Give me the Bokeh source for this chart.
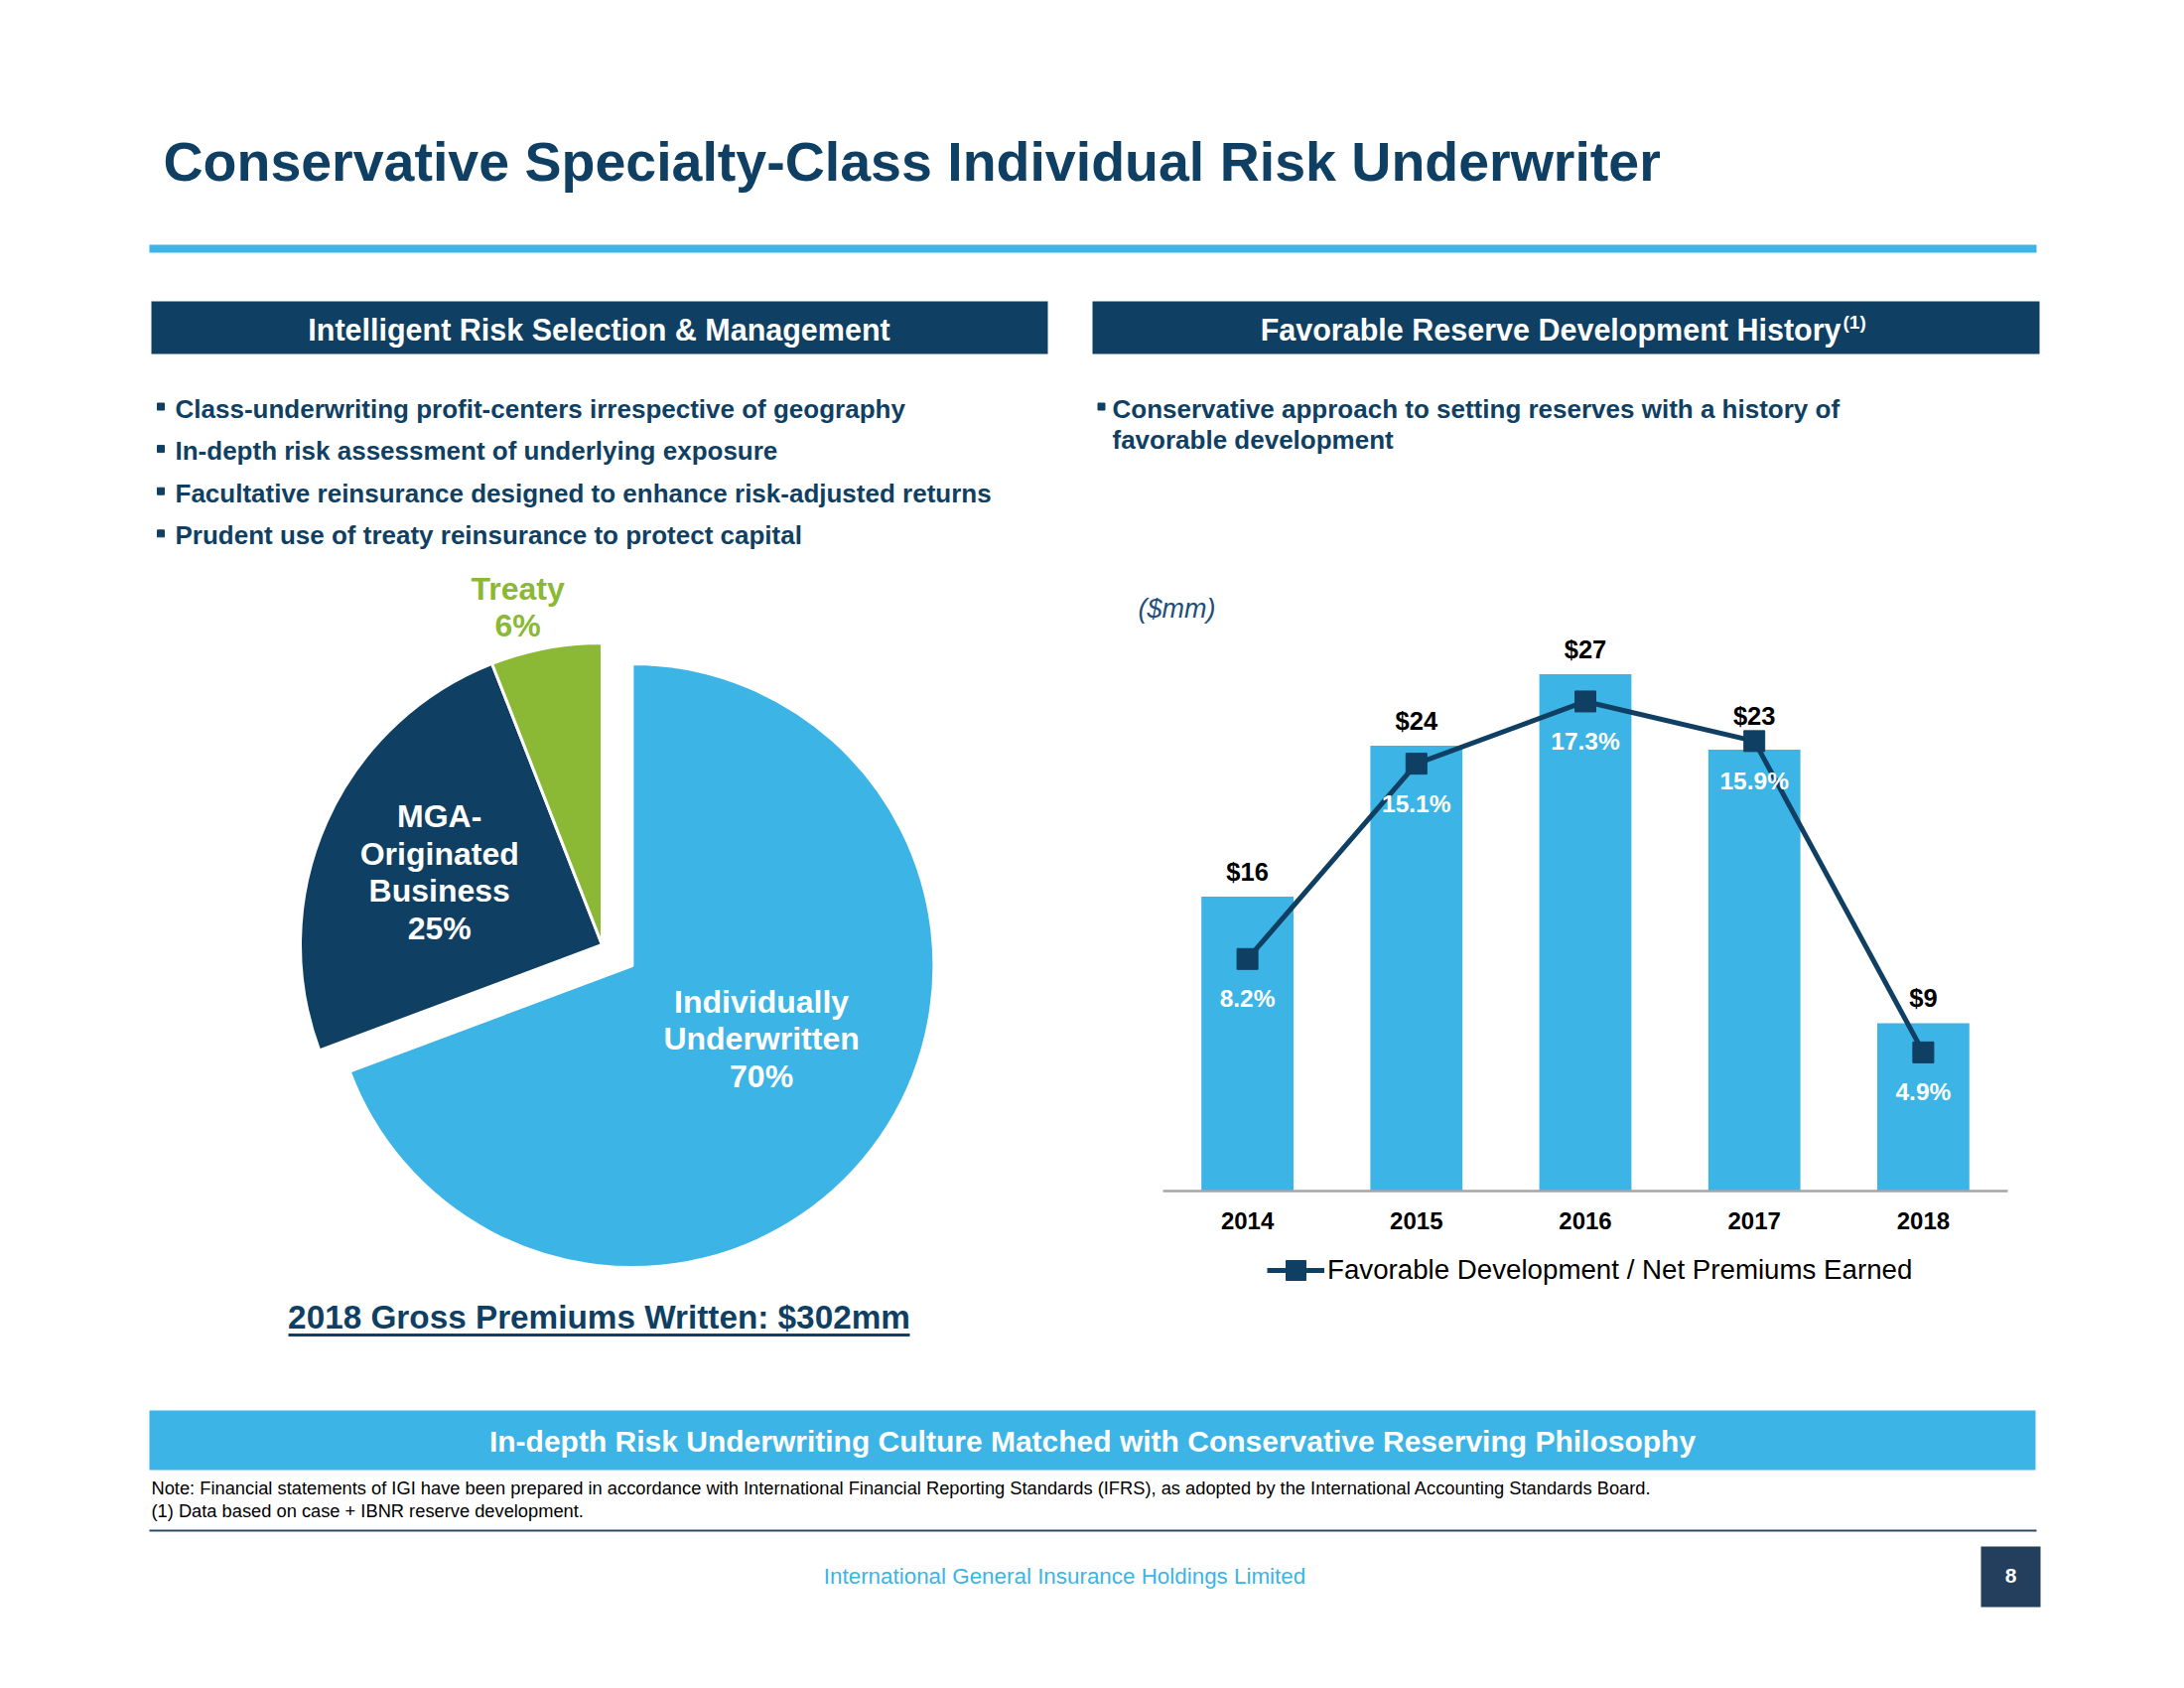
import math
from bokeh.plotting import figure
from bokeh.models import Range1d, ColumnDataSource, Legend, LegendItem
from bokeh.core.properties import value
from bokeh.embed import file_html
from bokeh.resources import INLINE

# ---------------- data / texts ----------------
title_text = "Conservative Specialty-Class Individual Risk Underwriter"
left_header = "Intelligent Risk Selection & Management"
right_header = "Favorable Reserve Development History"
right_header_note = "(1)"
left_bullets = [
    "Class-underwriting profit-centers irrespective of geography",
    "In-depth risk assessment of underlying exposure",
    "Facultative reinsurance designed to enhance risk-adjusted returns",
    "Prudent use of treaty reinsurance to protect capital",
]
right_bullet_lines = [
    "Conservative approach to setting reserves with a history of",
    "favorable development",
]
pie_segments = ["Individually\nUnderwritten", "MGA-\nOriginated\nBusiness", "Treaty"]
pie_shares = [70, 25, 6]
pie_caption = "2018 Gross Premiums Written: $302mm"

years = ["2014", "2015", "2016", "2017", "2018"]
fav_dev_mm = [15.6, 23.6, 27.4, 23.4, 8.9]
fav_dev_ratio = [8.2, 15.1, 17.3, 15.9, 4.9]
unit_note = "($mm)"
legend_label = "Favorable Development / Net Premiums Earned"

banner_text = "In-depth Risk Underwriting Culture Matched with Conservative Reserving Philosophy"
notes = [
    "Note: Financial statements of IGI have been prepared in accordance with International Financial Reporting Standards (IFRS), as adopted by the International Accounting Standards Board.",
    "(1) Data based on case + IBNR reserve development.",
]
footer_text = "International General Insurance Holdings Limited"
page_number = "8"

# ---------------- styles / layout ----------------
FONT = "Liberation Sans"
NAVY = "#0F3F62"
LIGHT = "#3CB4E5"
GREEN = "#8BB935"
PAGE_BOX = "#243F5E"
RULE = "#2E4A68"
UNIT_BLUE = "#1F4E79"
pie_colors = [LIGHT, NAVY, GREEN]
pie_label_colors = ["white", "white", GREEN]
pie_label_radial = [0.49, 0.59, 1.15]
pie_label_tangent = [-0.045, 0.0, -0.067]
pie_explode = [37, 0, 0]

W, H = 2200, 1700
AX_L, AX_R, AX_Y, AX_TOP = 1171, 2022, 1199, 629   # plot area of the bar chart (page px)
DEV_MAX, PCT_MAX = 30, 20

p = figure(width=W, height=H, x_range=Range1d(0, W), y_range=Range1d(H, 0),
           output_backend="svg", toolbar_location=None,
           x_axis_location=None, y_axis_location=None, min_border=0)
p.outline_line_color = None
p.background_fill_color = "white"
p.border_fill_color = "white"
p.grid.visible = False

# scales for the bar/line chart and the pie
unit_x = (AX_R - AX_L) / len(years)
c0 = AX_L + unit_x / 2
px_dev = (AX_Y - AX_TOP) / DEV_MAX
px_pct = (AX_Y - AX_TOP) / PCT_MAX
p.extra_x_ranges = {"bar_x": Range1d(-c0 / unit_x, (W - c0) / unit_x)}
p.extra_y_ranges = {
    "dev_y": Range1d(-(H - AX_Y) / px_dev, AX_Y / px_dev),
    "pct_y": Range1d(-(H - AX_Y) / px_pct, AX_Y / px_pct),
    "pie_y": Range1d(-H, 0),
}


def txt(x, y, s, size, color, bold=False, align="left", italic=False, lh=1.2, yr="default"):
    style = "italic" if italic else ("bold" if bold else "normal")
    p.text(x=[x], y=[y], text=[s], text_font=value(FONT), text_font_size=f"{size}px",
           text_font_style=style, text_color=color, text_align=align,
           text_baseline="middle", line_height=lh, y_range_name=yr)


def box(l, r, t, b, color):
    p.quad(left=[l], right=[r], top=[t], bottom=[b], color=color, line_color=None)


# ---------------- top section ----------------
txt(164, 162, title_text, 55.5, NAVY, bold=True)
box(150, 2051, 246, 254, LIGHT)

box(152, 1055, 303, 356, NAVY)
txt(603, 331, left_header, 30.5, "white", bold=True, align="center")
box(1100, 2054, 303, 356, NAVY)
txt(1854, 331, right_header, 30.5, "white", bold=True, align="right")
txt(1856, 324, right_header_note, 19, "white", bold=True)

for i, b in enumerate(left_bullets):
    yb = 411 + i * 42.6
    p.scatter(x=[161.5], y=[yb - 2], marker="square", size=7, color=NAVY)
    txt(176, yb, b, 26, NAVY, bold=True)

p.scatter(x=[1109], y=[409], marker="square", size=7, color=NAVY)
for i, line in enumerate(right_bullet_lines):
    txt(1120, 411 + i * 31, line, 26, NAVY, bold=True)

# ---------------- pie ----------------
total = float(sum(pie_shares))
cum = 0.0
base_cx, base_cy, R = 606.0, -951.0, 304.0
for i, (name, share) in enumerate(zip(pie_segments, pie_shares)):
    a0 = cum / total * 2 * math.pi
    cum += share
    a1 = cum / total * 2 * math.pi
    mid = (a0 + a1) / 2
    dx, dy = math.sin(mid), math.cos(mid)
    cx = base_cx + pie_explode[i] * dx
    cy = base_cy + pie_explode[i] * dy
    p.wedge(x=[cx], y=[cy], radius=R, start_angle=math.pi / 2 - a1, end_angle=math.pi / 2 - a0,
            fill_color=pie_colors[i], line_color="white", line_width=3, y_range_name="pie_y")
    fr, ft = pie_label_radial[i] * R, pie_label_tangent[i] * R
    lx = cx + fr * dx + ft * dy
    ly = cy + fr * dy - ft * dx
    txt(lx, ly, f"{name}\n{share}%", 32, pie_label_colors[i], bold=True, align="center",
        lh=1.04, yr="pie_y")

txt(603, 1326, pie_caption, 33.3, NAVY, bold=True, align="center")
box(290, 916, 1342.5, 1345.5, NAVY)

# ---------------- bar + line chart ----------------
idx = list(range(len(years)))
# value label sits above whichever is higher: the bar or the ratio marker
lbl_anchor = [max(d, r * px_pct / px_dev) for d, r in zip(fav_dev_mm, fav_dev_ratio)]
src = ColumnDataSource(dict(
    i=idx, year=years, dev=fav_dev_mm, pct=fav_dev_ratio, zero=[0] * len(years),
    lbl_y=lbl_anchor,
    dev_lbl=[f"${v:.0f}" for v in fav_dev_mm],
    pct_lbl=[f"{v:.1f}%" for v in fav_dev_ratio],
))
p.vbar(x="i", top="dev", width=0.545, color=LIGHT, line_color=None, source=src,
       x_range_name="bar_x", y_range_name="dev_y")
p.segment(x0=[-0.5], x1=[len(years) - 0.5], y0=[0], y1=[0], line_color="#A6A6A6", line_width=2.5,
          x_range_name="bar_x", y_range_name="dev_y")
p.text(x="i", y="zero", text="year", y_offset=30, text_align="center", text_baseline="middle",
       text_font=value(FONT), text_font_style="bold", text_font_size="24px", text_color="black",
       source=src, x_range_name="bar_x", y_range_name="dev_y")
p.text(x="i", y="lbl_y", text="dev_lbl", y_offset=-25, text_align="center", text_baseline="middle",
       text_font=value(FONT), text_font_style="bold", text_font_size="25.5px", text_color="black",
       source=src, x_range_name="bar_x", y_range_name="dev_y")
line_r = p.line(x="i", y="pct", line_color=NAVY, line_width=5, source=src,
                x_range_name="bar_x", y_range_name="pct_y")
sq_r = p.scatter(x="i", y="pct", marker="square", size=21, color=NAVY, source=src,
                 x_range_name="bar_x", y_range_name="pct_y")
p.text(x="i", y="pct", text="pct_lbl", y_offset=40, text_align="center", text_baseline="middle",
       text_font=value(FONT), text_font_style="bold", text_font_size="24.5px", text_color="white",
       source=src, x_range_name="bar_x", y_range_name="pct_y")

txt(1146, 612, unit_note, 27, UNIT_BLUE, italic=True)

LEG_H = 50 + 2 * 10
legend = Legend(items=[LegendItem(label=legend_label, renderers=[line_r, sq_r])],
                location=(1276, H - 1269 - LEG_H / 2), orientation="horizontal",
                label_text_font=FONT, label_text_font_size="27.7px", label_text_color="black",
                glyph_width=58, glyph_height=50, label_standoff=3, padding=10, margin=0,
                border_line_color=None, background_fill_alpha=0)
p.add_layout(legend, "center")

# ---------------- bottom section ----------------
box(150, 2050, 1420, 1480, LIGHT)
txt(1100, 1451, banner_text, 30, "white", bold=True, align="center")
txt(152, 1498, notes[0], 18.3, "black")
txt(152, 1521, notes[1], 18.3, "black")
box(150, 2051, 1540, 1542, RULE)
txt(1072, 1587, footer_text, 22.4, LIGHT, align="center")
box(1995, 2055, 1557, 1618, PAGE_BOX)
txt(2025, 1586, page_number, 21, "white", bold=True, align="center")

open("out.html", "w").write(file_html(p, INLINE))
